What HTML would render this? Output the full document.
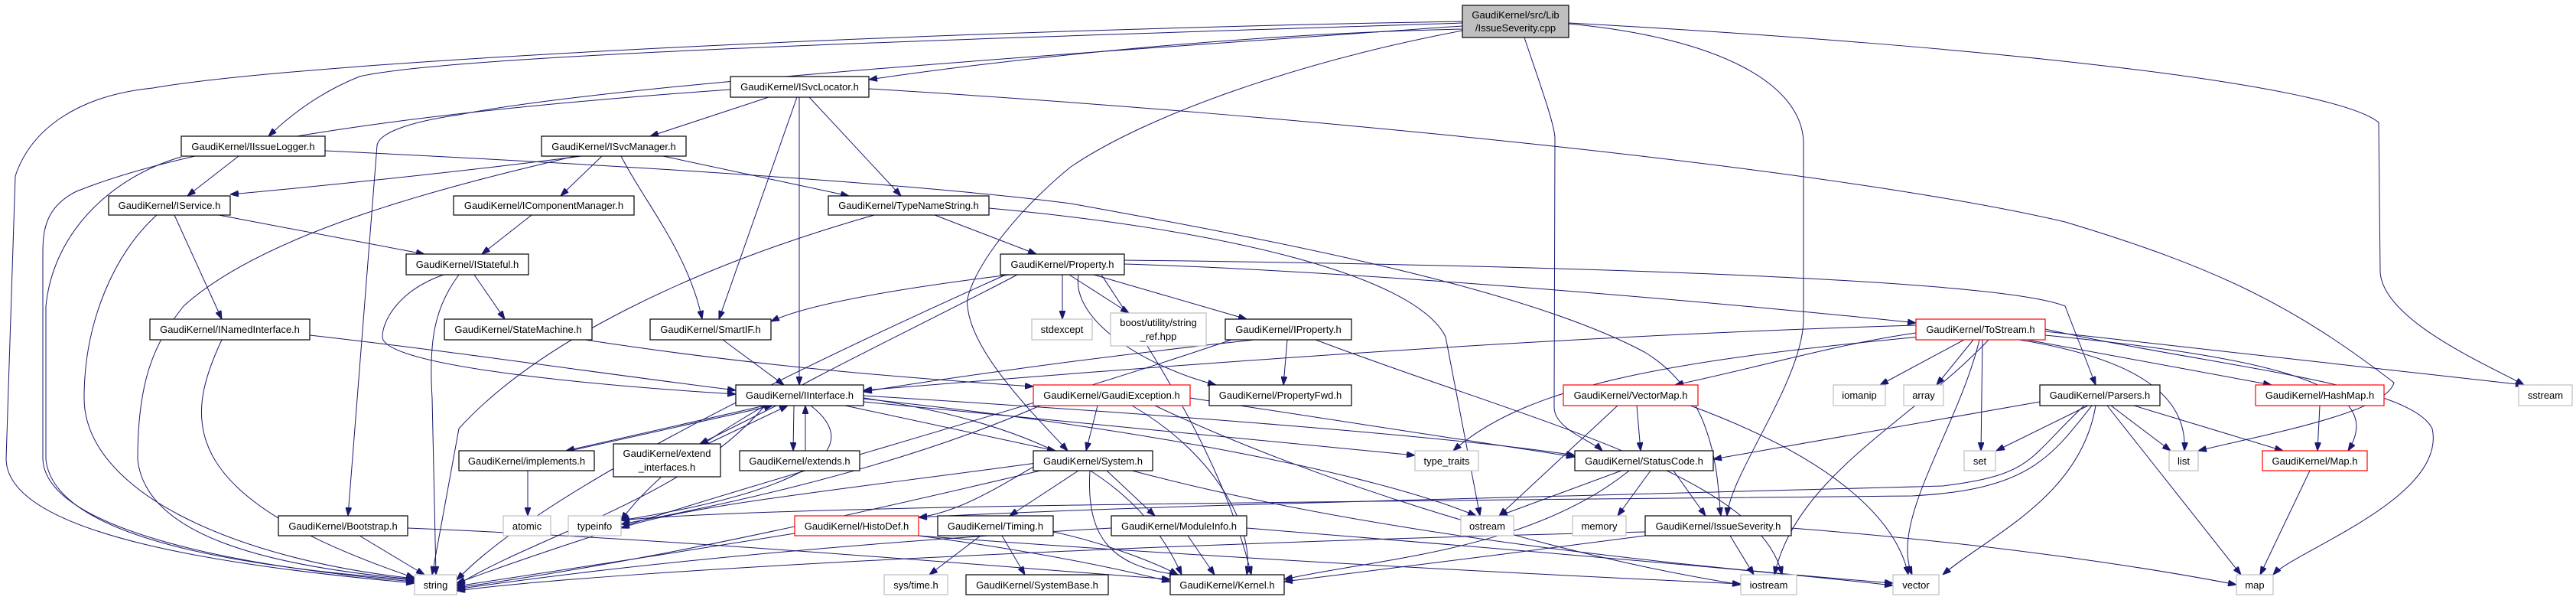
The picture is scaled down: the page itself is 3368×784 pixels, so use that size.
<!DOCTYPE html>
<html><head><meta charset="utf-8"><style>
html,body{margin:0;padding:0;background:#fff;}
svg{display:block;}
text{font-family:"Liberation Sans",Helvetica,Arial,sans-serif;font-size:13px;fill:#000;text-anchor:middle;}
.e{fill:none;stroke:#191970;stroke-width:1;marker-end:url(#a);}
.n{fill:#fff;stroke:#000;stroke-width:1.2;}
.g{fill:#fff;stroke:#bfbfbf;stroke-width:1.2;}
.r{fill:#fff;stroke:#ff0000;stroke-width:1.2;}
</style></head><body>
<svg width="3368" height="784" viewBox="0 0 3368 784" xmlns="http://www.w3.org/2000/svg">
<defs><marker id="a" markerUnits="userSpaceOnUse" markerWidth="11" markerHeight="8" refX="11" refY="4" orient="auto"><path d="M0,0 L11,4 L0,8 z" fill="#191970" stroke="#191970"/></marker></defs>
<g>
<path class="e" d="M1912,38 C1600,45 1300,80 1136,104"/>
<path class="e" d="M1912,30 C1300,50 600,70 470,100 C420,120 380,150 351,178"/>
<path class="e" d="M1912,28 C1200,40 400,80 200,115 C100,125 40,170 20,230 L8,600 C10,700 300,740 542,762"/>
<path class="e" d="M1912,34 C1400,70 800,110 600,150 C530,160 495,175 493,190 L455,674"/>
<path class="e" d="M1912,40 C1700,80 1500,150 1400,218 C1300,300 1260,380 1265,400 C1270,460 1350,540 1396,589"/>
<path class="e" d="M1993,49 C2010,100 2032,160 2033,180 L2032,530 C2030,560 2080,575 2095,589"/>
<path class="e" d="M2051,31 C2250,50 2355,110 2358,185 L2358,420 C2355,500 2262,620 2258,674"/>
<path class="e" d="M2051,30 C2600,60 3050,110 3110,160 L3112,355 C3115,420 3260,480 3300,503"/>
<path class="e" d="M1005,127 L850,178"/>
<path class="e" d="M1045,127 L1045,503"/>
<path class="e" d="M1042,127 L940,417"/>
<path class="e" d="M1058,127 L1178,256"/>
<path class="e" d="M955,117 C700,135 300,170 100,250 C60,270 56,300 56,330 L56,600 C60,690 300,740 542,760"/>
<path class="e" d="M1136,116 C1700,150 2400,220 2700,290 C2900,350 3000,400 3130,500 C3120,540 2950,570 2874,589"/>
<path class="e" d="M312,204 L245,256"/>
<path class="e" d="M237,205 C150,230 70,300 60,400 L60,600 C70,700 300,740 542,758"/>
<path class="e" d="M425,197 C800,215 1200,240 1400,266 C1700,320 2000,380 2150,460 C2250,520 2245,640 2250,674"/>
<path class="e" d="M760,204 C600,225 400,245 301,254"/>
<path class="e" d="M787,204 L733,256"/>
<path class="e" d="M812,204 C840,260 900,330 918,417"/>
<path class="e" d="M867,204 L1110,256"/>
<path class="e" d="M752,204 C600,240 350,300 240,400 C200,450 180,500 180,600 C190,700 350,740 542,757"/>
<path class="e" d="M286,281 L555,332"/>
<path class="e" d="M228,281 L290,417"/>
<path class="e" d="M205,281 C150,330 110,420 110,520 C110,640 300,730 542,756"/>
<path class="e" d="M695,281 L630,332"/>
<path class="e" d="M1222,281 L1355,332"/>
<path class="e" d="M1143,281 C900,350 700,450 600,560 L565,751"/>
<path class="e" d="M1293,272 C1600,300 1850,360 1890,440 L1935,674"/>
<path class="e" d="M580,359 C520,380 500,420 500,440 C500,480 800,505 962,515"/>
<path class="e" d="M620,359 L660,417"/>
<path class="e" d="M600,359 C570,400 560,440 565,520 L570,751"/>
<path class="e" d="M1320,359 C1150,380 1050,400 1008,420"/>
<path class="e" d="M1389,359 L1389,417"/>
<path class="e" d="M1398,359 L1476,409"/>
<path class="e" d="M1430,359 L1630,417"/>
<path class="e" d="M1410,359 C1400,420 1500,480 1590,503"/>
<path class="e" d="M1470,345 C1800,355 2300,400 2505,422"/>
<path class="e" d="M1470,340 C1900,345 2600,360 2700,400 L2740,503"/>
<path class="e" d="M1330,359 C1100,480 900,560 812,680"/>
<path class="e" d="M1315,359 C1000,500 700,650 597,758"/>
<path class="e" d="M1440,359 C1500,450 1600,600 1636,751"/>
<path class="e" d="M405,438 C600,460 800,490 962,510"/>
<path class="e" d="M290,444 C240,550 230,650 542,755"/>
<path class="e" d="M765,444 C1000,480 1200,495 1351,505"/>
<path class="e" d="M945,444 L1025,503"/>
<path class="e" d="M1640,444 C1400,470 1200,500 1129,512"/>
<path class="e" d="M1683,444 L1678,503"/>
<path class="e" d="M1610,444 C1300,550 900,650 597,762"/>
<path class="e" d="M1720,444 C2000,550 2300,620 2330,751"/>
<path class="e" d="M2505,425 C2000,440 1500,480 1129,510"/>
<path class="e" d="M2568,444 L2458,503"/>
<path class="e" d="M2580,444 L2532,503"/>
<path class="e" d="M2592,444 L2590,589"/>
<path class="e" d="M2640,444 C2800,470 2860,520 2856,589"/>
<path class="e" d="M2588,444 C2560,560 2470,680 2500,751"/>
<path class="e" d="M2674,430 C2900,480 3150,500 3180,560 C3200,650 3000,720 2972,751"/>
<path class="e" d="M2674,433 C3000,470 3200,490 3300,503"/>
<path class="e" d="M2650,444 L2970,503"/>
<path class="e" d="M2674,438 C3000,470 3120,510 3070,589"/>
<path class="e" d="M2505,435 C2400,450 2300,480 2190,503"/>
<path class="e" d="M2510,440 C2200,470 2000,500 1900,589"/>
<path class="e" d="M2600,444 C2500,550 2350,620 2320,751"/>
<path class="e" d="M1000,530 L740,589"/>
<path class="e" d="M745,589 L1010,530"/>
<path class="e" d="M1015,530 L915,580"/>
<path class="e" d="M925,580 L1030,530"/>
<path class="e" d="M1038,530 L1037,589"/>
<path class="e" d="M1053,589 L1053,530"/>
<path class="e" d="M1105,530 L1380,589"/>
<path class="e" d="M1129,517 C1500,540 1900,570 2059,595"/>
<path class="e" d="M1060,530 C1150,600 1000,650 812,680"/>
<path class="e" d="M1000,530 C900,650 700,700 597,765"/>
<path class="e" d="M1129,520 C1400,560 1500,650 1545,751"/>
<path class="e" d="M1129,521 C1500,560 1800,620 1930,674"/>
<path class="e" d="M1129,525 C1500,560 1700,580 1850,595"/>
<path class="e" d="M690,615 L690,674"/>
<path class="e" d="M1435,530 L1420,589"/>
<path class="e" d="M1556,520 L2059,597"/>
<path class="e" d="M1480,530 C1600,600 1640,700 1630,751"/>
<path class="e" d="M1360,530 C1200,600 1000,650 812,685"/>
<path class="e" d="M1510,530 C1700,620 2000,720 2276,764"/>
<path class="e" d="M2140,530 L2145,589"/>
<path class="e" d="M2115,530 L1960,674"/>
<path class="e" d="M2210,530 C2400,600 2480,680 2495,751"/>
<path class="e" d="M2667,525 L2240,600"/>
<path class="e" d="M2730,530 L2610,589"/>
<path class="e" d="M2760,530 L2838,589"/>
<path class="e" d="M2790,530 L2985,589"/>
<path class="e" d="M2755,530 L2930,751"/>
<path class="e" d="M2740,530 C2720,650 2600,700 2540,751"/>
<path class="e" d="M2725,530 C2650,600 2660,620 2540,635 C2000,650 1500,660 1201,676"/>
<path class="e" d="M2735,530 C2680,600 2650,640 2500,648 C1800,655 1000,660 812,680"/>
<path class="e" d="M3033,530 L3030,589"/>
<path class="e" d="M3020,615 L2955,751"/>
<path class="e" d="M2120,615 L1960,674"/>
<path class="e" d="M2158,615 L2115,674"/>
<path class="e" d="M2188,615 L2230,674"/>
<path class="e" d="M2130,615 C2000,720 1800,730 1679,757"/>
<path class="e" d="M1425,615 C1420,700 1450,740 1540,751"/>
<path class="e" d="M1410,615 L1320,674"/>
<path class="e" d="M1447,615 L1510,674"/>
<path class="e" d="M1351,610 C1300,640 1250,670 1201,676"/>
<path class="e" d="M1360,615 C1000,700 800,740 597,768"/>
<path class="e" d="M1355,605 C1100,640 900,660 812,690"/>
<path class="e" d="M1480,615 C1800,700 2200,740 2475,762"/>
<path class="e" d="M1282,700 L1215,751"/>
<path class="e" d="M1310,700 L1340,751"/>
<path class="e" d="M1377,695 C1450,710 1520,740 1540,751"/>
<path class="e" d="M1553,700 L1588,751"/>
<path class="e" d="M1453,690 C1100,710 800,740 597,770"/>
<path class="e" d="M1630,690 C2000,720 2300,745 2475,765"/>
<path class="e" d="M2151,700 C2000,720 1800,745 1679,760"/>
<path class="e" d="M2262,700 L2293,751"/>
<path class="e" d="M2151,695 C1500,710 800,745 597,772"/>
<path class="e" d="M2342,690 C2600,710 2800,740 2924,764"/>
<path class="e" d="M1039,697 C900,720 700,750 597,766"/>
<path class="e" d="M1201,700 C1350,720 1450,740 1530,760"/>
<path class="e" d="M1201,700 C1600,730 2000,750 2276,763"/>
<path class="e" d="M470,700 L555,751"/>
<path class="e" d="M533,690 C900,705 1300,740 1530,757"/>
</g>
<g>
<rect x="1912" y="7" width="139" height="42" fill="#bfbfbf" stroke="#000" stroke-width="1.2"/><text x="1981.5" y="24">GaudiKernel/src/Lib</text><text x="1981.5" y="41">/IssueSeverity.cpp</text>
<rect class="n" x="955" y="100" width="181" height="27"/><text x="1045.5" y="118">GaudiKernel/ISvcLocator.h</text>
<rect class="n" x="237" y="178" width="188" height="26"/><text x="331" y="196">GaudiKernel/IIssueLogger.h</text>
<rect class="n" x="708" y="178" width="189" height="26"/><text x="802.5" y="196">GaudiKernel/ISvcManager.h</text>
<rect class="n" x="142" y="256" width="159" height="25"/><text x="221.5" y="273">GaudiKernel/IService.h</text>
<rect class="n" x="593" y="256" width="236" height="25"/><text x="711" y="273">GaudiKernel/IComponentManager.h</text>
<rect class="n" x="1083" y="256" width="210" height="25"/><text x="1188" y="273">GaudiKernel/TypeNameString.h</text>
<rect class="n" x="531" y="332" width="160" height="27"/><text x="611" y="350">GaudiKernel/IStateful.h</text>
<rect class="n" x="1308" y="332" width="162" height="27"/><text x="1389" y="350">GaudiKernel/Property.h</text>
<rect class="n" x="196" y="417" width="209" height="27"/><text x="300.5" y="435">GaudiKernel/INamedInterface.h</text>
<rect class="n" x="581" y="417" width="193" height="27"/><text x="677.5" y="435">GaudiKernel/StateMachine.h</text>
<rect class="n" x="850" y="417" width="158" height="27"/><text x="929" y="435">GaudiKernel/SmartIF.h</text>
<rect class="g" x="1349" y="417" width="79" height="27"/><text x="1388.5" y="435">stdexcept</text>
<rect class="g" x="1452" y="409" width="125" height="43"/><text x="1514.5" y="426">boost/utility/string</text><text x="1514.5" y="444">_ref.hpp</text>
<rect class="n" x="1602" y="417" width="165" height="27"/><text x="1684.5" y="435">GaudiKernel/IProperty.h</text>
<rect class="r" x="2505" y="417" width="169" height="27"/><text x="2589.5" y="435">GaudiKernel/ToStream.h</text>
<rect class="n" x="962" y="503" width="167" height="27"/><text x="1045.5" y="521">GaudiKernel/IInterface.h</text>
<rect class="r" x="1351" y="503" width="205" height="27"/><text x="1453.5" y="521">GaudiKernel/GaudiException.h</text>
<rect class="n" x="1581" y="503" width="186" height="27"/><text x="1674" y="521">GaudiKernel/PropertyFwd.h</text>
<rect class="r" x="2044" y="503" width="176" height="27"/><text x="2132" y="521">GaudiKernel/VectorMap.h</text>
<rect class="g" x="2397" y="503" width="68" height="27"/><text x="2431" y="521">iomanip</text>
<rect class="g" x="2489" y="503" width="52" height="27"/><text x="2515" y="521">array</text>
<rect class="n" x="2667" y="503" width="157" height="27"/><text x="2745.5" y="521">GaudiKernel/Parsers.h</text>
<rect class="r" x="2949" y="503" width="168" height="27"/><text x="3033" y="521">GaudiKernel/HashMap.h</text>
<rect class="g" x="3293" y="503" width="70" height="27"/><text x="3328" y="521">sstream</text>
<rect class="n" x="600" y="589" width="177" height="26"/><text x="688.5" y="607">GaudiKernel/implements.h</text>
<rect class="n" x="802" y="580" width="140" height="43"/><text x="872" y="597">GaudiKernel/extend</text><text x="872" y="615">_interfaces.h</text>
<rect class="n" x="967" y="589" width="157" height="26"/><text x="1045.5" y="607">GaudiKernel/extends.h</text>
<rect class="n" x="1351" y="589" width="156" height="26"/><text x="1429" y="607">GaudiKernel/System.h</text>
<rect class="g" x="1850" y="589" width="83" height="26"/><text x="1891.5" y="607">type_traits</text>
<rect class="n" x="2059" y="589" width="181" height="26"/><text x="2149.5" y="607">GaudiKernel/StatusCode.h</text>
<rect class="g" x="2568" y="589" width="41" height="26"/><text x="2588.5" y="607">set</text>
<rect class="g" x="2836" y="589" width="38" height="26"/><text x="2855" y="607">list</text>
<rect class="r" x="2958" y="589" width="137" height="26"/><text x="3026.5" y="607">GaudiKernel/Map.h</text>
<rect class="n" x="364" y="674" width="169" height="26"/><text x="448.5" y="692">GaudiKernel/Bootstrap.h</text>
<rect class="g" x="658" y="674" width="62" height="26"/><text x="689" y="692">atomic</text>
<rect class="g" x="743" y="674" width="69" height="26"/><text x="777.5" y="692">typeinfo</text>
<rect class="r" x="1039" y="674" width="162" height="26"/><text x="1120" y="692">GaudiKernel/HistoDef.h</text>
<rect class="n" x="1226" y="674" width="151" height="26"/><text x="1301.5" y="692">GaudiKernel/Timing.h</text>
<rect class="n" x="1453" y="674" width="177" height="26"/><text x="1541.5" y="692">GaudiKernel/ModuleInfo.h</text>
<rect class="g" x="1910" y="674" width="69" height="26"/><text x="1944.5" y="692">ostream</text>
<rect class="g" x="2056" y="674" width="70" height="26"/><text x="2091" y="692">memory</text>
<rect class="n" x="2151" y="674" width="191" height="26"/><text x="2246.5" y="692">GaudiKernel/IssueSeverity.h</text>
<rect class="g" x="542" y="751" width="55" height="26"/><text x="569.5" y="769">string</text>
<rect class="g" x="1156" y="751" width="83" height="26"/><text x="1197.5" y="769">sys/time.h</text>
<rect class="n" x="1263" y="751" width="186" height="26"/><text x="1356" y="769">GaudiKernel/SystemBase.h</text>
<rect class="n" x="1530" y="751" width="149" height="26"/><text x="1604.5" y="769">GaudiKernel/Kernel.h</text>
<rect class="g" x="2276" y="751" width="73" height="26"/><text x="2312.5" y="769">iostream</text>
<rect class="g" x="2475" y="751" width="60" height="26"/><text x="2505" y="769">vector</text>
<rect class="g" x="2924" y="751" width="48" height="26"/><text x="2948" y="769">map</text>
</g>
</svg>
</body></html>
